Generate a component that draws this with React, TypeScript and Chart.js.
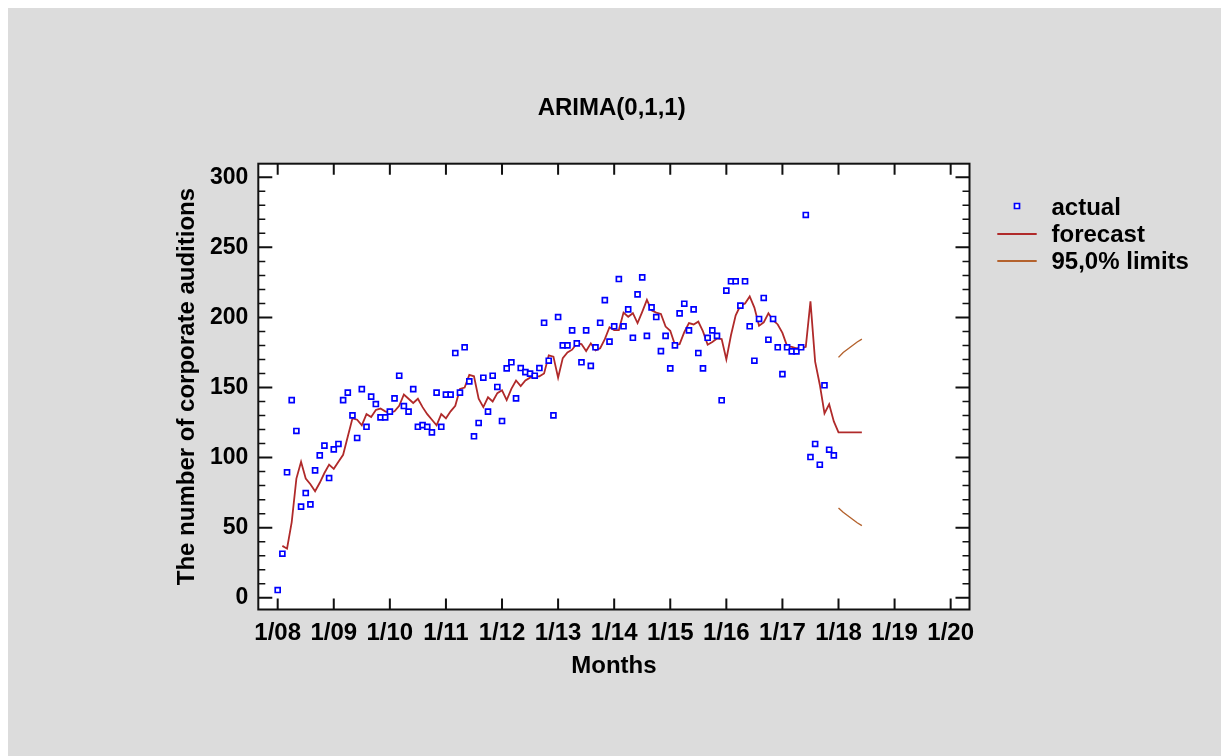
import React, { useEffect, useRef } from "react";
import { Chart, registerables } from "chart.js";

Chart.register(...registerables);

// ---------- text ----------
const chartTitle = "ARIMA(0,1,1)";
const xAxisTitle = "Months";
const yAxisTitle = "The number of corporate auditions";
const legendLabels = ["actual", "forecast", "95,0% limits"];

// ---------- axes ----------
const xTickMonths = [0, 12, 24, 36, 48, 60, 72, 84, 96, 108, 120, 132, 144];
const xTickLabels = ["1/08", "1/09", "1/10", "1/11", "1/12", "1/13", "1/14", "1/15", "1/16", "1/17", "1/18", "1/19", "1/20"];
const yTickValues = [0, 50, 100, 150, 200, 250, 300];
const yMinorStep = 10;
const xMin = -4.15;
const xMax = 148.03;
const yMin = -8.4;
const yMax = 309.7;

// ---------- data (month index 0 = 1/08) ----------
const actualStartMonth = 0;
const actualValues = [
  5.5, 31.4, 89.5, 141, 119, 65, 74.7, 66.6, 90.9, 101.6, 108.5, 85.4,
  105.9, 109.7, 141, 146.3, 130.1, 114, 148.9, 122, 143.5, 138.2, 128.7, 128.7,
  132.8, 142.3, 158.4, 136.8, 132.8, 148.9, 122, 123.2, 122, 118, 146.3, 122,
  144.9, 144.9, 174.6, 146.3, 178.7, 154.4, 115.2, 124.7, 157, 132.8, 158.4, 150.4,
  126.1, 163.7, 168, 142.3, 163.9, 161, 159.9, 158.4, 163.9, 196.2, 169.1, 130.1,
  200.3, 180.1, 180.1, 190.8, 181.5, 168, 190.8, 165.4, 178.7, 196.2, 212.4, 182.7,
  193.7, 227.4, 193.7, 205.8, 185.5, 216.5, 228.6, 186.8, 207.2, 200.3, 176, 186.8,
  163.7, 180.1, 202.9, 209.8, 190.8, 205.8, 174.6, 163.7, 185.5, 190.8, 186.8, 140.9,
  219.1, 225.8, 225.8, 208.4, 225.8, 193.7, 169.1, 198.9, 213.9, 184.1, 198.9, 178.7,
  159.6, 178.7, 175.8, 175.8, 178.7, 273.1, 100.4, 109.7, 94.9, 151.6, 105.6, 101.6,
];

const forecastStartMonth = 1;
const forecastValues = [
  37, 35, 54, 85, 97, 85, 81, 76, 82, 89, 95,
  92, 97, 102, 115, 128, 127, 123, 131, 129, 134, 135, 133,
  132, 133, 137, 145, 142, 139, 142, 136, 131, 127, 123, 131,
  128, 133, 137, 149, 150, 159, 158, 142, 136, 143, 140, 146,
  148, 141, 149, 155, 151, 155, 157, 158, 158, 160, 173, 172,
  157, 171, 175, 177, 181.5, 181, 176, 181.5, 176.5, 178, 184.5, 193,
  191, 191, 203.5, 200.5, 203, 196, 204, 212.5, 205, 203.5, 202.5, 193.5,
  190.5, 180.5, 181, 189.5, 196, 195, 197, 190, 180.5, 182.5, 185, 184.5,
  170, 187.5, 201.5, 208.5, 210, 215, 207, 194, 196.5, 203, 198, 195,
  189, 179.5, 179, 178, 178, 179, 211.5, 168.5, 152, 131.5, 138, 125.8,
  118, 118, 118, 118, 118, 118,
];

const limitStartMonth = 120;
const upperLimitValues = [171.5, 175, 177.5, 180, 182.5, 184.5];
const lowerLimitValues = [64, 61, 58.5, 56, 53.5, 51.5];

// ---------- styles ----------
const FONT = "'Liberation Sans', Arial, Helvetica, sans-serif";
const ACTUAL_COLOR = "#0000ff";
const FORECAST_COLOR = "#b02a2a";
const LIMIT_COLOR = "#b4622d";
const FRAME_COLOR = "#111111";

const toPoints = (start: number, values: number[]) =>
  values.map((v, i) => ({ x: start + i, y: v }));

const frameTicksLegend = {
  id: "frameTicksLegend",
  beforeDraw(chart: any) {
    const { ctx, chartArea: a } = chart;
    ctx.save();
    ctx.fillStyle = "#ffffff";
    ctx.fillRect(a.left, a.top, a.right - a.left, a.bottom - a.top);
    ctx.restore();
  },
  afterDatasetsDraw(chart: any) {
    const { ctx, chartArea: a } = chart;
    const xs = chart.scales.x;
    const ys = chart.scales.y;
    ctx.save();
    ctx.strokeStyle = FRAME_COLOR;
    ctx.lineWidth = 1.5;
    ctx.beginPath();
    for (let v = 0; v <= yMax; v += yMinorStep) {
      if (v % 50 === 0) continue;
      const py = ys.getPixelForValue(v);
      ctx.moveTo(a.left, py);
      ctx.lineTo(a.left + 7, py);
      ctx.moveTo(a.right, py);
      ctx.lineTo(a.right - 7, py);
    }
    ctx.stroke();
    ctx.lineWidth = 2;
    ctx.beginPath();
    for (const v of yTickValues) {
      const py = ys.getPixelForValue(v);
      ctx.moveTo(a.left, py);
      ctx.lineTo(a.left + 14, py);
      ctx.moveTo(a.right, py);
      ctx.lineTo(a.right - 14, py);
    }
    for (const m of xTickMonths) {
      const px = xs.getPixelForValue(m);
      ctx.moveTo(px, a.top);
      ctx.lineTo(px, a.top + 11);
      ctx.moveTo(px, a.bottom);
      ctx.lineTo(px, a.bottom - 11);
    }
    ctx.stroke();
    ctx.lineWidth = 2;
    ctx.strokeRect(a.left, a.top, a.right - a.left, a.bottom - a.top);
    ctx.restore();
  },
  afterDraw(chart: any) {
    const { ctx } = chart;
    ctx.save();
    const markerY = [198, 226, 253];
    ctx.fillStyle = "#ffffff";
    ctx.strokeStyle = ACTUAL_COLOR;
    ctx.lineWidth = 1.7;
    ctx.beginPath();
    ctx.rect(1009 - 2.5, markerY[0] - 2.5, 5, 5);
    ctx.fill();
    ctx.stroke();
    ctx.lineWidth = 1.8;
    ctx.strokeStyle = FORECAST_COLOR;
    ctx.beginPath();
    ctx.moveTo(989.3, markerY[1]);
    ctx.lineTo(1028.7, markerY[1]);
    ctx.stroke();
    ctx.strokeStyle = LIMIT_COLOR;
    ctx.beginPath();
    ctx.moveTo(989.3, markerY[2]);
    ctx.lineTo(1028.7, markerY[2]);
    ctx.stroke();
    const textY = [200, 227.5, 254];
    ctx.fillStyle = "#000000";
    ctx.font = `bold 24px ${FONT}`;
    ctx.textAlign = "left";
    ctx.textBaseline = "middle";
    legendLabels.forEach((t, i) => ctx.fillText(t, 1043.5, textY[i]));
    ctx.restore();
  },
};

export default function App() {
  const canvasRef = useRef<HTMLCanvasElement | null>(null);

  useEffect(() => {
    if (!canvasRef.current) return;
    const chart = new Chart(canvasRef.current, {
      type: "line",
      data: {
        datasets: [
          {
            label: legendLabels[0],
            data: toPoints(actualStartMonth, actualValues),
            showLine: false,
            pointStyle: "rect",
            pointRadius: 3.5,
            pointBorderWidth: 1.7,
            pointBorderColor: ACTUAL_COLOR,
            pointBackgroundColor: "#ffffff",
            borderColor: ACTUAL_COLOR,
            backgroundColor: "#ffffff",
          },
          {
            label: legendLabels[1],
            data: toPoints(forecastStartMonth, forecastValues),
            borderColor: FORECAST_COLOR,
            borderWidth: 1.8,
            pointRadius: 0,
            tension: 0,
            fill: false,
          },
          {
            label: legendLabels[2],
            data: toPoints(limitStartMonth, upperLimitValues),
            borderColor: LIMIT_COLOR,
            borderWidth: 1.4,
            pointRadius: 0,
            tension: 0,
            fill: false,
          },
          {
            label: legendLabels[2],
            data: toPoints(limitStartMonth, lowerLimitValues),
            borderColor: LIMIT_COLOR,
            borderWidth: 1.4,
            pointRadius: 0,
            tension: 0,
            fill: false,
          },
        ],
      },
      options: {
        responsive: false,
        animation: false,
        events: [],
        layout: { padding: { left: 0, right: 5.6, top: 0, bottom: 0 } },
        plugins: {
          legend: { display: false },
          tooltip: { enabled: false },
          title: {
            display: true,
            text: chartTitle,
            color: "#000000",
            font: { family: FONT, size: 24, weight: "bold" },
            padding: { top: 86.2, bottom: 40.7 },
          },
        },
        scales: {
          x: {
            type: "linear",
            position: "bottom",
            min: xMin,
            max: xMax,
            grid: { display: false, drawTicks: false, tickLength: 0 },
            border: { display: false },
            afterBuildTicks: (scale: any) => {
              scale.ticks = xTickMonths.map((v) => ({ value: v }));
            },
            afterFit: (scale: any) => {
              scale.height = 146.5;
            },
            ticks: {
              autoSkip: false,
              maxRotation: 0,
              minRotation: 0,
              padding: 9.5,
              color: "#000000",
              font: { family: FONT, size: 24, weight: "bold" },
              callback: (_v: any, i: number) => xTickLabels[i],
            },
            title: {
              display: true,
              text: xAxisTitle,
              color: "#000000",
              font: { family: FONT, size: 24, weight: "bold" },
              padding: { top: 0, bottom: 75 },
            },
          },
          y: {
            type: "linear",
            position: "left",
            min: yMin,
            max: yMax,
            grid: { display: false, drawTicks: false, tickLength: 0 },
            border: { display: false },
            afterBuildTicks: (scale: any) => {
              scale.ticks = yTickValues.map((v) => ({ value: v }));
            },
            afterFit: (scale: any) => {
              scale.width = 250.3;
            },
            ticks: {
              padding: 10,
              color: "#000000",
              font: { family: FONT, size: 23, weight: "bold" },
              callback: (v: any) => String(v),
            },
            title: {
              display: true,
              text: yAxisTitle,
              color: "#000000",
              font: { family: FONT, size: 24, weight: "bold" },
              padding: { top: 165.2, bottom: 0 },
            },
          },
          yRight: {
            type: "linear",
            position: "right",
            min: yMin,
            max: yMax,
            grid: { display: false, drawTicks: false },
            border: { display: false },
            ticks: { display: false },
            afterFit: (scale: any) => {
              scale.width = 245.9;
            },
          },
        },
      },
      plugins: [frameTicksLegend],
    } as any);
    return () => chart.destroy();
  }, []);

  return (
    <div
      style={{
        position: "fixed",
        left: 8,
        top: 8,
        width: 1213,
        height: 748,
        background: "#dcdcdc",
      }}
    >
      <canvas ref={canvasRef} width={1213} height={748} style={{ display: "block" }} />
    </div>
  );
}
